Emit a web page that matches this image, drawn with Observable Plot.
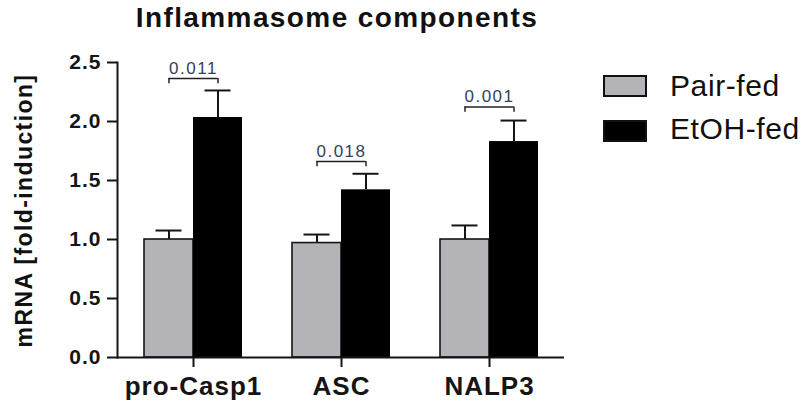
<!DOCTYPE html>
<html>
<head>
<meta charset="utf-8">
<script src="https://cdn.jsdelivr.net/npm/d3@7"></script>
<script src="https://cdn.jsdelivr.net/npm/@observablehq/plot@0.6"></script>
<style>
  html, body { margin: 0; padding: 0; background: #fff; }
  #wrap { position: relative; width: 800px; height: 409px; overflow: hidden; font-family: "Liberation Sans", Arial, sans-serif; }
  #wrap svg.chart { position: absolute; left: 0; top: 0; }
  .title { position: absolute; left: 0; width: 674px; text-align: center; top: 4px; font-size: 28px; line-height: 28px; font-weight: bold; letter-spacing: 1.4px; color: #111; white-space: nowrap; }
  .ylabel { position: absolute; width: 320px; left: -136px; top: 199px; height: 23px; line-height: 23px; text-align: center; font-size: 23px; font-weight: bold; letter-spacing: 1.4px; color: #111; transform: rotate(-90deg); transform-origin: 160px 11.5px; white-space: nowrap; }
  .lg-box { position: absolute; left: 603px; width: 44px; height: 22px; box-sizing: border-box; border: 2px solid #111; }
  .lg-text { position: absolute; left: 670px; font-size: 30px; line-height: 30px; color: #111; letter-spacing: 0.6px; white-space: nowrap; }
</style>
</head>
<body>
<div id="wrap"></div>
<script>
// ---- data ----
const categories = ["pro-Casp1", "ASC", "NALP3"];
const groups = ["Pair-fed", "EtOH-fed"];
const groupColors = ["#b3b3b8", "#000000"];
const pairMean = [1.00, 0.97, 1.00];
const pairUpper = [1.076, 1.042, 1.119];
const etohMean = [2.034, 1.421, 1.83];
const etohUpper = [2.263, 1.557, 2.008];
const pLabels = ["0.011", "0.018", "0.001"];
const bracketLevel = [2.364, 1.661, 2.123];
const yTicks = [0, 0.5, 1.0, 1.5, 2.0, 2.5];
const chartTitle = "Inflammasome components";
const yTitle = "mRNA [fold-induction]";

// ---- tables ----
const pairRows = categories.map((c, i) => ({cat: c, mean: pairMean[i], upper: pairUpper[i]}));
const etohRows = categories.map((c, i) => ({cat: c, mean: etohMean[i], upper: etohUpper[i]}));
const statRows = categories.map((c, i) => ({cat: c, p: pLabels[i], level: bracketLevel[i]}));

const half = 49;      // half of the band (one bar width)
const ink = "#151515";

const chart = Plot.plot({
  width: 800,
  height: 409,
  marginLeft: 117,
  marginRight: 236,
  marginTop: 62,
  marginBottom: 52,
  style: {fontFamily: "'Liberation Sans', Arial, sans-serif", background: "transparent", color: ink},
  x: {domain: categories, paddingInner: 0.34, paddingOuter: 0.175, label: null, axis: null},
  y: {domain: [0, 2.5], label: null, axis: null},
  marks: [
    Plot.barY(pairRows, {x: "cat", y: "mean", fill: groupColors[0], stroke: ink, strokeWidth: 1.6, insetRight: half}),
    Plot.barY(etohRows, {x: "cat", y: "mean", fill: groupColors[1], insetLeft: half}),
    // error bars (upper only)
    Plot.ruleX(pairRows, {x: "cat", y1: "mean", y2: "upper", dx: -half / 2, stroke: ink, strokeWidth: 2}),
    Plot.tickY(pairRows, {x: "cat", y: "upper", insetLeft: half / 2 - 13, insetRight: half * 1.5 - 13, stroke: ink, strokeWidth: 2}),
    Plot.ruleX(etohRows, {x: "cat", y1: "mean", y2: "upper", dx: half / 2, stroke: ink, strokeWidth: 2}),
    Plot.tickY(etohRows, {x: "cat", y: "upper", insetLeft: half * 1.5 - 13, insetRight: half / 2 - 13, stroke: ink, strokeWidth: 2}),
    // significance brackets
    Plot.tickY(statRows, {x: "cat", y: "level", insetLeft: half / 2, insetRight: half / 2, stroke: "#222", strokeWidth: 1.5}),
    Plot.ruleX(statRows, {x: "cat", y1: "level", y2: d => d.level - 0.045, dx: -half / 2, stroke: "#222", strokeWidth: 1.5}),
    Plot.ruleX(statRows, {x: "cat", y1: "level", y2: d => d.level - 0.045, dx: half / 2, stroke: "#222", strokeWidth: 1.5}),
    Plot.text(statRows, {x: "cat", y: "level", text: "p", lineAnchor: "bottom", dy: -5, fontSize: 17, fill: "#34425a"}),
    // axes
    Plot.ruleY([0], {stroke: ink, strokeWidth: 2}),
    Plot.frame({anchor: "left", stroke: ink, strokeWidth: 2}),
    Plot.axisY({ticks: yTicks, tickFormat: d3.format(".1f"), tickSize: 10, tickPadding: 6, fontSize: 21, fontWeight: "bold", stroke: ink, strokeWidth: 2, fill: ink, label: null}),
    Plot.axisX({tickSize: 10, tickPadding: 9, fontSize: 26, fontWeight: "bold", stroke: ink, strokeWidth: 2, fill: ink, label: null})
  ]
});
chart.classList.add("chart");

const wrap = document.getElementById("wrap");
wrap.appendChild(chart);

// letter spacing tweaks on rendered text
chart.querySelectorAll('[aria-label="x-axis tick label"] text').forEach(t => t.style.letterSpacing = "1px");
chart.querySelectorAll('[aria-label="y-axis tick label"] text').forEach(t => t.style.letterSpacing = "1px");
chart.querySelectorAll('[aria-label="text"] text').forEach(t => t.style.letterSpacing = "1.5px");

// title
const title = document.createElement("div");
title.className = "title";
title.textContent = chartTitle;
wrap.appendChild(title);

// y label
const yl = document.createElement("div");
yl.className = "ylabel";
yl.textContent = yTitle;
wrap.appendChild(yl);

// legend
const boxTops = [75, 120];
const textTops = [71, 114];
groups.forEach((g, i) => {
  const b = document.createElement("div");
  b.className = "lg-box";
  b.style.top = boxTops[i] + "px";
  b.style.background = groupColors[i];
  wrap.appendChild(b);
  const t = document.createElement("div");
  t.className = "lg-text";
  t.style.top = textTops[i] + "px";
  t.textContent = g;
  wrap.appendChild(t);
});
</script>
</body>
</html>
